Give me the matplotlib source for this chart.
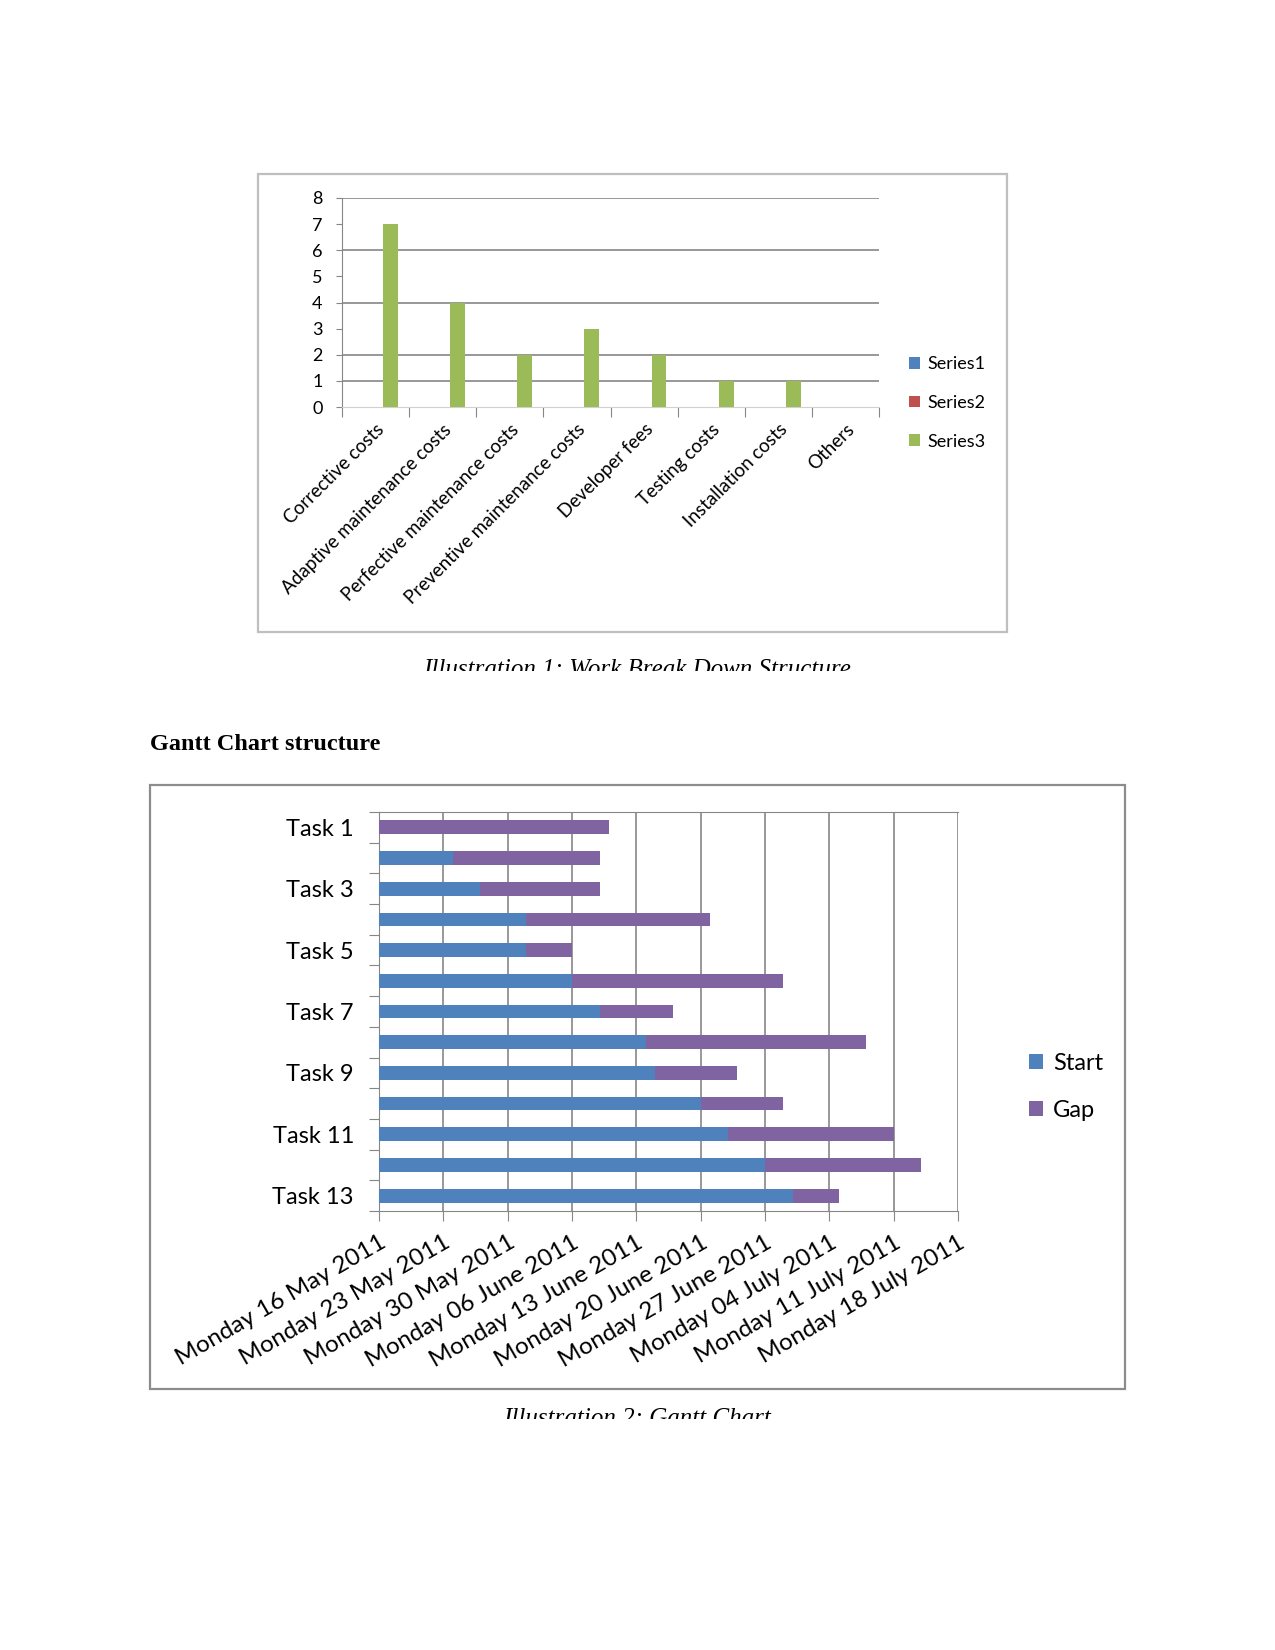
import datetime as dt
import numpy as np
import matplotlib
matplotlib.use('Agg')
import matplotlib.pyplot as plt
import matplotlib.dates as mdates
from matplotlib.patches import Rectangle

W, H = 1275, 1650

# chart 1: work break down
cost_items = ['Corrective costs', 'Adaptive maintenance costs', 'Perfective maintenance costs',
              'Preventive maintenance costs', 'Developer fees', 'Testing costs',
              'Installation costs', 'Others']
series1 = [0, 0, 0, 0, 0, 0, 0, 0]
series2 = [0, 0, 0, 0, 0, 0, 0, 0]
series3 = [7, 4, 2, 3, 2, 1, 1, 0]
grid_levels = [1, 2, 4, 6, 8]

# chart 2: gantt
tasks = ['Task 1', 'Task 2', 'Task 3', 'Task 4', 'Task 5', 'Task 6', 'Task 7',
         'Task 8', 'Task 9', 'Task 10', 'Task 11', 'Task 12', 'Task 13']
task_start = ['2011-05-16', '2011-05-24', '2011-05-27', '2011-06-01', '2011-06-01',
              '2011-06-06', '2011-06-09', '2011-06-14', '2011-06-15', '2011-06-20',
              '2011-06-23', '2011-06-27', '2011-06-30']
gap_days = [25, 16, 13, 20, 5, 23, 8, 24, 9, 9, 18, 17, 5]
axis_from = '2011-05-16'
axis_to = '2011-07-18'

BLUE = '#4F81BD'
RED = '#C0504D'
GREEN = '#9BBB59'
PURPLE = '#8064A2'
GRID = '#868686'


def fig_rect(x0, y0, x1, y1):
    return [x0 / W, 1 - y1 / H, (x1 - x0) / W, (y1 - y0) / H]


def frame(x0, y0, x1, y1, color):
    fig.add_artist(Rectangle((x0 / W, 1 - y1 / H), (x1 - x0) / W, (y1 - y0) / H,
                             transform=fig.transFigure, fill=False, ec=color, lw=1.6))


def clipped_caption(x, baseline, cut, text):
    fig.text(x / W, 1 - baseline / H, text, family='Liberation Serif', style='italic',
             fontsize=18, ha='center', va='baseline')
    fig.add_artist(Rectangle((x / W - 0.3, 1 - (cut + 25) / H), 0.6, 25 / H,
                             transform=fig.transFigure, fc='white', ec='none', zorder=5))


plt.rcParams['font.family'] = ['Lato', 'DejaVu Sans']
fig = plt.figure(figsize=(W / 100, H / 100), dpi=100)

# ---- chart 1 ----
frame(258, 174, 1007, 632, '#BFBFBF')
ax1 = fig.add_axes(fig_rect(342, 198, 879, 407))
x = np.arange(len(cost_items))
bw = 0.222
ax1.bar(x + 0.5 - bw, series1, bw, color=BLUE, lw=0, label='Series1')
ax1.bar(x + 0.5, series2, bw, color=RED, lw=0, label='Series2')
ax1.bar(x + 0.5 + bw, series3, bw, color=GREEN, lw=0, label='Series3', zorder=3)
for v in grid_levels:
    ax1.axhline(v, color=GRID, lw=1.2, zorder=1)
ax1.set_xlim(0, len(cost_items))
ax1.set_ylim(0, 8)
ax1.set_yticks(range(9))
ax1.tick_params(axis='y', length=4, color=GRID, labelsize=13, pad=10)
ax1.set_xticks(np.arange(len(cost_items) + 1))
ax1.set_xticklabels([])
ax1.set_xticks(x + 0.5, cost_items, minor=True)
ax1.tick_params(axis='x', which='major', length=7, color=GRID)
ax1.tick_params(axis='x', which='minor', length=0, pad=10, labelsize=13.5)
plt.setp(ax1.get_xticklabels(minor=True), rotation=45, ha='right', va='top',
         rotation_mode='anchor')
for s in ['top', 'right']:
    ax1.spines[s].set_visible(False)
ax1.spines['left'].set_color(GRID)
ax1.spines['bottom'].set_color('#D0D0D0')
ax1.legend(loc='center left', bbox_to_anchor=(893 / W, 1 - 403 / H),
           bbox_transform=fig.transFigure, frameon=False, fontsize=13,
           handlelength=0.6, handleheight=0.6, handletextpad=0.4, labelspacing=1.25)

clipped_caption(637, 676, 671, 'Illustration 1: Work Break Down Structure')

fig.text(150 / W, 1 - 745 / H, 'Gantt Chart structure', family='Liberation Serif',
         weight='bold', fontsize=17.5, va='center')

# ---- chart 2 ----
frame(150, 785, 1125, 1389, '#8C8C8C')
ax2 = fig.add_axes(fig_rect(379, 812, 958, 1211))
y = np.arange(len(tasks))
x0 = mdates.date2num(dt.date.fromisoformat(axis_from))
x1 = mdates.date2num(dt.date.fromisoformat(axis_to))
starts = np.array([mdates.date2num(dt.date.fromisoformat(d)) for d in task_start])
ax2.barh(y, starts - x0, left=x0, height=0.45, color=BLUE, label='Start', zorder=3)
ax2.barh(y, gap_days, left=starts, height=0.45, color=PURPLE, label='Gap', zorder=3)
ax2.set_xlim(x0, x1)
ax2.set_ylim(len(tasks) - 0.5, -0.5)
ax2.xaxis.set_major_locator(mdates.WeekdayLocator(byweekday=mdates.MO))
ax2.xaxis.set_major_formatter(mdates.DateFormatter('%A %d %B %Y'))
ax2.grid(axis='x', color=GRID, lw=1.2, zorder=0)
ax2.tick_params(axis='x', length=7, color=GRID, labelsize=17.5, pad=8)
plt.setp(ax2.get_xticklabels(), rotation=30, ha='right', va='top', rotation_mode='anchor')
ax2.set_yticks(np.arange(len(tasks) + 1) - 0.5)
ax2.set_yticklabels([])
ax2.set_yticks(y, [t if i % 2 == 0 else '' for i, t in enumerate(tasks)], minor=True)
ax2.tick_params(axis='y', which='major', length=7, color=GRID)
ax2.tick_params(axis='y', which='minor', length=0, pad=18, labelsize=17)
ax2.spines['right'].set_visible(False)
for s in ['top', 'left', 'bottom']:
    ax2.spines[s].set_color(GRID)
ax2.legend(loc='center left', bbox_to_anchor=(1008 / W, 1 - 1087 / H),
           bbox_transform=fig.transFigure, frameon=False, fontsize=17,
           handlelength=0.6, handleheight=0.6, handletextpad=0.4, labelspacing=1.1)

clipped_caption(637, 1425, 1419, 'Illustration 2: Gantt Chart')

fig.savefig('out.png', dpi=100, facecolor='white')
